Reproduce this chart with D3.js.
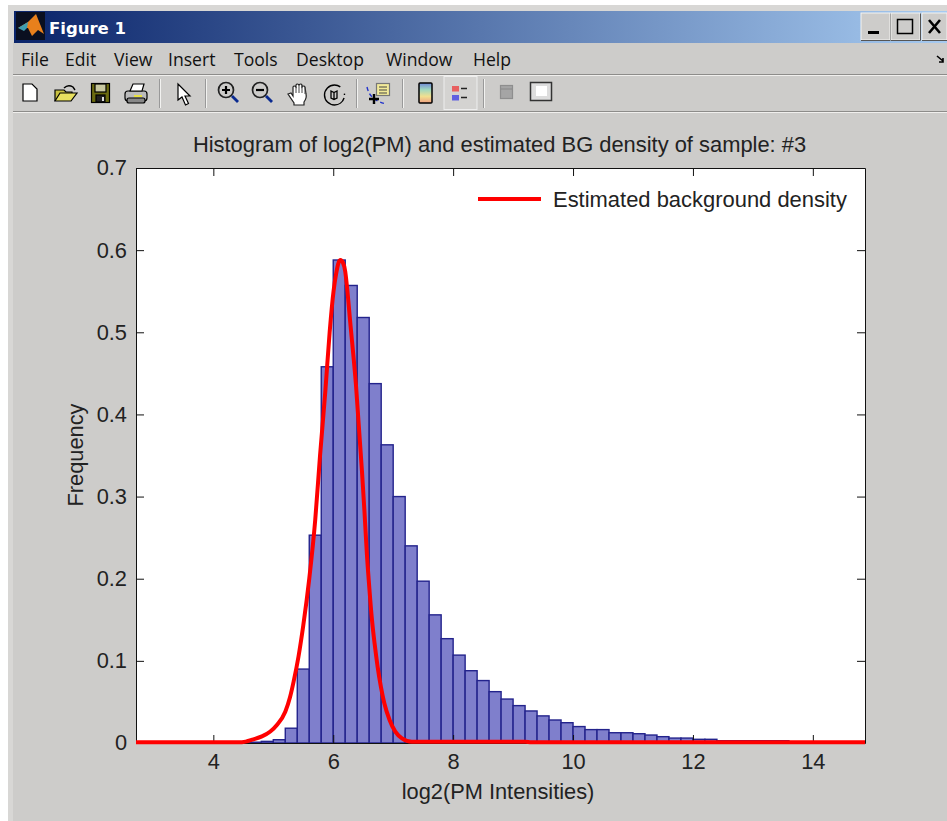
<!DOCTYPE html>
<html><head><meta charset="utf-8">
<style>html,body{margin:0;padding:0;background:#fff;overflow:hidden}svg{display:block}</style>
<script src="https://cdnjs.cloudflare.com/ajax/libs/d3/7.8.5/d3.min.js"></script>
</head><body><svg id="c" width="947" height="821"></svg>
<script>
const chartTitle="Histogram of log2(PM) and estimated BG density of sample: #3";
const xLabel="log2(PM Intensities)", yLabel="Frequency", legendLabel="Estimated background density";
const menuItems=[["File",21],["Edit",65],["View",114],["Insert",168],["Tools",234],["Desktop",296],["Window",386],["Help",473]];
const xTicks=[4,6,8,10,12,14];
const yTicks=[0,0.1,0.2,0.3,0.4,0.5,0.6,0.7];
const binStart=4.2, binWidth=0.2;
const binValues=[0.001,0.001,0.001,0.002,0.004,0.018,0.09,0.253,0.458,0.588,0.557,0.518,0.4375,0.363,0.30,0.24,0.197,0.156,0.127,0.107,0.088,0.076,0.0625,0.0535,0.0455,0.039,0.033,0.028,0.0247,0.02,0.0163,0.0163,0.0125,0.0125,0.0113,0.0097,0.0077,0.006,0.006,0.0045,0.0045,0.0028,0.0028,0.0028,0.0028,0.0028,0.0028];
const curveX=[2.71,4.3,4.476,4.67,4.81,4.95,5.06,5.2,5.28,5.34,5.42,5.5,5.6,5.7,5.78,5.87,5.94,6.005,6.05,6.09,6.12,6.16,6.2,6.23,6.28,6.38,6.48,6.52,6.563,6.606,6.646,6.69,6.74,6.796,6.85,6.94,7.035,7.147,7.31,9.2,9.3,14.87];
const curveY=[0.001,0.001,0.001,0.0045,0.008,0.014,0.022,0.038,0.056,0.075,0.105,0.143,0.2,0.272,0.35,0.43,0.5,0.55,0.572,0.585,0.588,0.585,0.574,0.555,0.515,0.435,0.33,0.283,0.228,0.185,0.15,0.121,0.093,0.068,0.049,0.028,0.0138,0.0057,0.0016,0.0016,0.001,0.001];

const svg=d3.select("#c");
const FONT="'Liberation Sans',Arial,sans-serif";
const UI="'Open Sans','Noto Sans',sans-serif";
const bg="#cdccca";
svg.append("rect").attr("x",8).attr("y",5).attr("width",939).attr("height",816).attr("fill","#d8d7d5");
svg.append("rect").attr("x",13).attr("y",42).attr("width",934).attr("height",779).attr("fill",bg);

// title bar
const defs=svg.append("defs");
const g=defs.append("linearGradient").attr("id","tb");
g.append("stop").attr("offset","0").attr("stop-color","#0a246a");
g.append("stop").attr("offset","1").attr("stop-color","#a6caf0");
svg.append("rect").attr("x",14).attr("y",11).attr("width",933).attr("height",32).attr("fill","url(#tb)");
svg.append("rect").attr("x",16).attr("y",12).attr("width",29).attr("height",28).attr("fill","#0a0f20");
svg.append("path").attr("d","M18 28 L28 22 L36 14 L44 34 L38 30 L32 36 L28 28 Z").attr("fill","#e8801c");
svg.append("path").attr("d","M18 28 L28 22 L27 28 L24 31 Z").attr("fill","#3f9db0");
svg.append("text").attr("x",49).attr("y",34).attr("font-family","'DejaVu Sans',sans-serif").attr("font-weight","bold").attr("font-size",16.5).attr("fill","#fff").text("Figure 1");
// window buttons
[[861,29],[891,29],[922,25]].forEach(([x,w])=>{
  svg.append("rect").attr("x",x).attr("y",13).attr("width",w).attr("height",27).attr("fill",bg).attr("stroke","#f4f4f2").attr("stroke-width",1);
  svg.append("path").attr("d",`M${x+w+.5} 13.5V40.5H${x}`).attr("fill","none").attr("stroke","#555");
});
svg.append("rect").attr("x",868).attr("y",31).attr("width",11).attr("height",3).attr("fill","#000");
svg.append("rect").attr("x",897.5).attr("y",19.5).attr("width",15).attr("height",14).attr("fill","none").attr("stroke","#000").attr("stroke-width",1.5);
svg.append("path").attr("d","M929 20L940 33M940 20L929 33").attr("stroke","#000").attr("stroke-width",2.6);

// menu
menuItems.forEach(([t,x])=>svg.append("text").attr("x",x).attr("y",66).attr("font-family",UI).attr("font-size",17.6).attr("fill","#111").text(t));
svg.append("path").attr("d","M937 56l6 5M943 58v4h-4").attr("stroke","#000").attr("fill","none").attr("stroke-width",1.6);
const hline=(y,c)=>svg.append("rect").attr("x",13).attr("y",y).attr("width",934).attr("height",1).attr("fill",c);
hline(74,"#8d8c8a");hline(75,"#f0efed");hline(111,"#8d8c8a");hline(112,"#f0efed");
[159,205,356,402,483].forEach(x=>{svg.append("rect").attr("x",x).attr("y",79).attr("width",1).attr("height",29).attr("fill","#999");svg.append("rect").attr("x",x+1).attr("y",79).attr("width",1).attr("height",29).attr("fill","#f2f2f0");});

// toolbar icons
const tb=svg.append("g").attr("stroke","#000").attr("stroke-width",1.2).attr("fill","none");
tb.append("path").attr("d","M23 84h9l5 5v12h-14z").attr("fill","#fff");
tb.append("path").attr("d","M55 101V90h9l2 2h6v3").attr("fill","#c8c040");
tb.append("path").attr("d","M55 101l5-8h17l-6 8z").attr("fill","#e8e060");
tb.append("path").attr("d","M64 88q4-4 9-1l2 3").attr("stroke-width",1.4);
tb.append("rect").attr("x",91.5).attr("y",83.5).attr("width",18).attr("height",19).attr("fill","#6b6b10");
tb.append("rect").attr("x",95).attr("y",84).attr("width",11).attr("height",8).attr("fill","#c8c8a0");
tb.append("rect").attr("x",96).attr("y",95).attr("width",9).attr("height",7).attr("fill","#222");
tb.append("rect").attr("x",102).attr("y",97).attr("width",2).attr("height",4).attr("fill","#ddd").attr("stroke","none");
tb.append("rect").attr("x",125).attr("y",91).attr("width",22).attr("height",10).attr("rx",3).attr("fill","#bbb");
tb.append("path").attr("d","M130 91l3-7h11l-2 7z").attr("fill","#fff");
tb.append("rect").attr("x",127).attr("y",98).attr("width",18).attr("height",5).attr("rx",2).attr("fill","#888");
tb.append("rect").attr("x",134).attr("y",95).attr("width",8).attr("height",2).attr("fill","#e8e040").attr("stroke","none");
tb.append("path").attr("d","M178 84l0 16 4-3 3.5 8 3-1.5-3.5-7.5h5z").attr("fill","#fff");
[[226,"+"],[260,"-"]].forEach(([x,s])=>{
  tb.append("circle").attr("cx",x).attr("cy",90).attr("r",7.5).attr("stroke-width",1.7).attr("stroke","#222");
  tb.append("path").attr("d",`M${x-4} 90h8`+(s==="+"?`M${x} 86v8`:"")).attr("stroke-width",2.2);
  tb.append("path").attr("d",`M${x+6} 96l6 6`).attr("stroke","#0a2a90").attr("stroke-width",2.8);
});
tb.append("path").attr("d","M288 94l3-1 2 3v-9q1-2 3 0v-2q1-2 3 0v0q2-2 3 0v2q2-2 3 0l1 7q1 4-2 8v3h-10v-2z").attr("fill","#fff").attr("stroke","#222");
tb.append("path").attr("d","M296 87v6M299 85v8M302 85v8M305 87v7").attr("stroke","#444").attr("stroke-width",1);
tb.append("circle").attr("cx",334.5).attr("cy",95).attr("r",10).attr("stroke-dasharray","50 8").attr("stroke-dashoffset",-3).attr("stroke-width",1.4);
tb.append("path").attr("d","M331 91l3 1.5 3-1.5v7l-3 1.5-3-1.5zM334 92.5v7").attr("stroke-width",1.3);
tb.append("path").attr("d","M367 87q3 14 20 17").attr("stroke","#2233cc").attr("stroke-dasharray","4 3").attr("stroke-width",1.4);
tb.append("rect").attr("x",376.5).attr("y",83.5).attr("width",13).attr("height",12).attr("fill","#f2ea98").attr("stroke","#777");
tb.append("path").attr("d","M379 87h8M379 90h8M379 93h8").attr("stroke","#444");
tb.append("path").attr("d","M369 99h10M374 94v10").attr("stroke-width",2.4);
const cg=defs.append("linearGradient").attr("id","cb").attr("x1",0).attr("x2",0).attr("y1",0).attr("y2",1);
["#7088d8","#a0d8c0","#f0e090","#f0a080"].forEach((c,i)=>cg.append("stop").attr("offset",i/3).attr("stop-color",c));
tb.append("rect").attr("x",419).attr("y",83).attr("width",13).attr("height",20).attr("rx",1).attr("fill","url(#cb)").attr("stroke-width",1.5);
svg.append("rect").attr("x",444).attr("y",76.5).attr("width",33).attr("height",33).attr("fill","#d4d3d1").attr("stroke","#eee");
tb.append("rect").attr("x",449.5).attr("y",82.5).attr("width",21).attr("height",21).attr("fill","#ccc").attr("stroke","#555").attr("stroke-width",1.6);
svg.append("rect").attr("x",452).attr("y",86).attr("width",7).attr("height",5.5).attr("fill","#e86060");
svg.append("rect").attr("x",452).attr("y",95).attr("width",7).attr("height",5.5).attr("fill","#6060e0");
svg.append("path").attr("d","M461 88.5h6M461 97.5h6").attr("stroke","#222").attr("stroke-width",1.5);
tb.append("rect").attr("x",500.5).attr("y",85.5).attr("width",12).attr("height",13).attr("fill","#a5a5a5").attr("stroke","#8e8e8e");
tb.append("path").attr("d","M501 89h11").attr("stroke","#8e8e8e");
tb.append("rect").attr("x",530.5).attr("y",82.5).attr("width",21).attr("height",18).attr("fill","#ddd").attr("stroke","#333").attr("stroke-width",1.5);
tb.append("rect").attr("x",536).attr("y",86).attr("width",11).attr("height",10).attr("fill","#fff").attr("stroke","none");

// chart
const L=136,R=865,T=168,B=743;
const x=d3.scaleLinear().domain([2.71,14.87]).range([L,R]);
const y=d3.scaleLinear().domain([0,0.7]).range([B,T]);
svg.append("rect").attr("x",L).attr("y",T).attr("width",R-L).attr("height",B-T).attr("fill","#fff");

svg.append("g").selectAll("rect").data(binValues).join("rect")
  .attr("x",(d,i)=>x(binStart+i*binWidth))
  .attr("y",d=>y(d))
  .attr("width",x(binWidth)-x(0))
  .attr("height",d=>B-y(d))
  .attr("fill","#7f7fcc").attr("stroke","#23238c").attr("stroke-width",1.4);

const axisStyle=a=>{a.select(".domain").attr("stroke","#111");a.selectAll("line").attr("stroke","#111");
  a.selectAll("text").attr("font-family",FONT).attr("font-size",21.8).attr("fill","#222");};
const xb=svg.append("g").attr("transform",`translate(0,${B})`).call(d3.axisBottom(x).tickValues(xTicks).tickSize(-8).tickSizeOuter(0).tickPadding(11));
const xt=svg.append("g").attr("transform",`translate(0,${T})`).call(d3.axisTop(x).tickValues(xTicks).tickSize(-8).tickSizeOuter(0).tickFormat(""));
const yl=svg.append("g").attr("transform",`translate(${L},0)`).call(d3.axisLeft(y).tickValues(yTicks).tickSize(-8).tickSizeOuter(0).tickPadding(9).tickFormat(d=>d===0?"0":d3.format(".1f")(d)));
const yr=svg.append("g").attr("transform",`translate(${R},0)`).call(d3.axisRight(y).tickValues(yTicks).tickSize(-8).tickSizeOuter(0).tickFormat(""));
[xb,xt,yl,yr].forEach(axisStyle);

const line=d3.line().x(d=>x(d[0])).y(d=>y(d[1])).curve(d3.curveMonotoneX);
svg.append("path").datum(curveX.map((v,i)=>[v,curveY[i]])).attr("d",line).attr("fill","none").attr("stroke","#f00").attr("stroke-width",4).attr("stroke-linejoin","round");

svg.append("text").attr("x",499.5).attr("y",151.5).attr("text-anchor","middle").attr("font-family",FONT).attr("font-size",21.9).attr("fill","#222").text(chartTitle);
svg.append("text").attr("x",498).attr("y",799).attr("text-anchor","middle").attr("font-family",FONT).attr("font-size",21.8).attr("fill","#222").text(xLabel);
svg.append("text").attr("transform","translate(83,455) rotate(-90)").attr("text-anchor","middle").attr("font-family",FONT).attr("font-size",21.8).attr("fill","#222").text(yLabel);
svg.append("line").attr("x1",478).attr("x2",541).attr("y1",199).attr("y2",199).attr("stroke","#f00").attr("stroke-width",4);
svg.append("text").attr("x",553).attr("y",207).attr("font-family",FONT).attr("font-size",21.95).attr("fill","#222").text(legendLabel);
</script></body></html>
